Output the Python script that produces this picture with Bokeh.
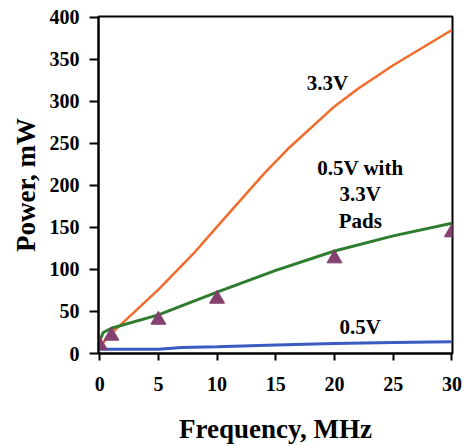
from bokeh.plotting import figure
from bokeh.models import Range1d, FixedTicker, Label
from bokeh.embed import file_html
from bokeh.resources import INLINE

# Data
freq_33 = [0, 1, 5, 8, 10, 14, 16, 20, 22, 25, 30]
power_33 = [8, 24, 76, 119, 151, 214, 243, 294, 315, 343, 385]

freq_pads = [0, 0.3, 1, 5, 10, 15, 20, 25, 30]
power_pads = [15, 25, 30, 46, 73, 99, 122, 140, 155]

freq_05 = [0, 5, 7, 10, 15, 20, 25, 30]
power_05 = [5, 5, 7, 8, 10, 12, 13, 14]

meas_freq = [0, 1, 5, 10, 20, 30]
meas_power = [10, 21, 40, 65, 113, 144]

x_ticks = [0, 5, 10, 15, 20, 25, 30]
y_ticks = [0, 50, 100, 150, 200, 250, 300, 350, 400]

FONT = "Liberation Serif"

p = figure(width=466, height=446, output_backend="svg", toolbar_location=None,
           x_range=Range1d(-0.1, 30.05), y_range=Range1d(0, 401),
           min_border_left=98, min_border_right=14, min_border_top=16, min_border_bottom=93)
p.background_fill_color = "white"
p.border_fill_color = "white"
p.grid.visible = False
p.outline_line_color = "black"
p.outline_line_width = 2

p.line(freq_33, power_33, line_color="#F26B2A", line_width=2.5)
p.line(freq_pads, power_pads, line_color="#2E7D2E", line_width=3)
p.line(freq_05, power_05, line_color="#3A5CC0", line_width=3)
p.scatter(meas_freq, meas_power, marker="triangle", size=15,
          fill_color="#84406E", line_color="#84406E")

for ax in (p.xaxis[0], p.yaxis[0]):
    ax.axis_line_width = 2
    ax.axis_line_color = "black"
    ax.major_tick_line_width = 2
    ax.major_tick_in = 0
    ax.minor_tick_line_color = None
    ax.major_label_text_font = FONT
    ax.major_label_text_font_style = "bold"
    ax.major_label_text_font_size = "20px"
    ax.major_label_text_color = "black"
    ax.axis_label_text_font = FONT
    ax.axis_label_text_font_style = "bold"
    ax.axis_label_text_font_size = "27px"
    ax.axis_label_text_color = "black"

p.xaxis.ticker = FixedTicker(ticks=x_ticks)
p.yaxis.ticker = FixedTicker(ticks=y_ticks)
p.xaxis.major_tick_out = 7
p.yaxis.major_tick_out = 9
p.xaxis.major_label_standoff = 16
p.yaxis.major_label_standoff = 10
p.xaxis.axis_label = "Frequency, MHz"
p.yaxis.axis_label = "Power, mW"
p.xaxis.axis_label_standoff = 20
p.yaxis.axis_label_standoff = 6

labels = [
    ("3.3V", 19.4, 322),
    ("0.5V with", 22.2, 221),
    ("3.3V", 22.2, 190),
    ("Pads", 22.2, 158),
    ("0.5V", 22.2, 31),
]
for txt, x, y in labels:
    p.add_layout(Label(x=x, y=y, text=txt, text_font=FONT, text_font_style="bold",
                       text_font_size="21px", text_align="center", text_baseline="middle",
                       text_color="black"))

open("out.html", "w").write(file_html(p, INLINE))
